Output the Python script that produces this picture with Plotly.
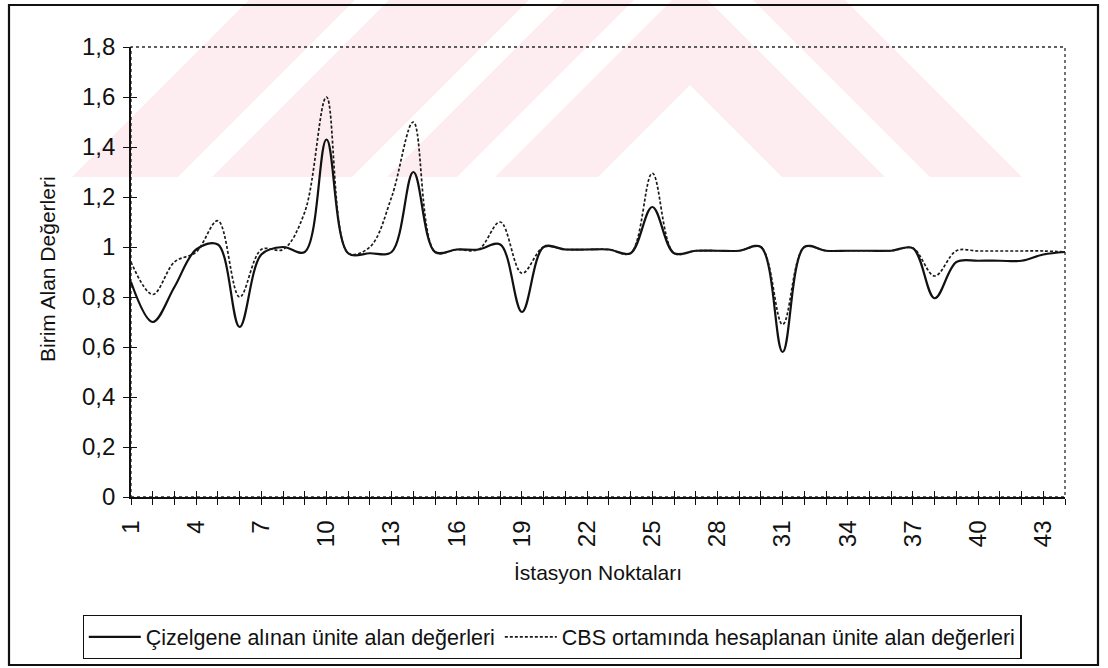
import plotly.graph_objects as go

# Station numbers along the route
stations = list(range(1, 45))

# Unit area values taken from the table (solid line)
cizelge_values = [
    0.86, 0.70, 0.84, 0.99, 1.01, 0.68, 0.97, 1.00, 0.98, 1.43,
    0.975, 0.975, 0.98, 1.30, 0.98, 0.99, 0.99, 1.01, 0.74, 1.00,
    0.99, 0.99, 0.99, 0.975, 1.16, 0.975, 0.985, 0.985, 0.985, 1.00,
    0.58, 1.00, 0.985, 0.985, 0.985, 0.985, 0.995, 0.795, 0.94, 0.945,
    0.945, 0.945, 0.97, 0.98,
]

# Unit area values computed in the GIS environment (dotted line)
cbs_values = [
    0.94, 0.81, 0.94, 0.98, 1.105, 0.80, 0.99, 0.99, 1.14, 1.60,
    0.975, 1.00, 1.20, 1.50, 0.98, 0.99, 0.99, 1.10, 0.895, 1.00,
    0.99, 0.99, 0.99, 0.975, 1.295, 0.975, 0.985, 0.985, 0.985, 1.00,
    0.69, 1.00, 0.985, 0.985, 0.985, 0.985, 0.995, 0.884, 0.985, 0.984,
    0.984, 0.984, 0.984, 0.98,
]

series_names = [
    "Çizelgene alınan ünite alan değerleri",
    "CBS ortamında hesaplanan ünite alan değerleri",
]

y_tick_values = [0, 0.2, 0.4, 0.6, 0.8, 1.0, 1.2, 1.4, 1.6, 1.8]
y_tick_labels = ["0", "0,2", "0,4", "0,6", "0,8", "1", "1,2", "1,4", "1,6", "1,8"]
x_tick_labels = [str(s) if (s - 1) % 3 == 0 else "" for s in stations]

FONT = "Liberation Sans, Arial, sans-serif"
INK = "#111111"
W, H = 1108, 668
L, R, T, B = 131, 43, 47, 171
PW, PH = W - L - R, H - T - B


def px(x):
    return (x - L) / PW


def py(y):
    return (H - B - y) / PH


fig = go.Figure()

fig.add_trace(go.Scatter(
    x=stations, y=cizelge_values, name=series_names[0],
    mode="lines", line=dict(color=INK, width=2.2, shape="spline", smoothing=1),
))
fig.add_trace(go.Scatter(
    x=stations, y=cbs_values, name=series_names[1],
    mode="lines", line=dict(color="#1a1a1a", width=1.7, dash="3px,2px", shape="spline", smoothing=1),
))
# carrier for the inner half of the crossing tick marks
fig.add_trace(go.Scatter(
    x=[stations[0]], y=[0], xaxis="x2", yaxis="y2", mode="markers",
    marker=dict(opacity=0), showlegend=False, hoverinfo="skip",
))

shapes = []

# faint chevron watermark in the upper band of the page
cx, yb = 690, 177
pink = "#fdedf0"


def ring(pts):
    return "M" + " L".join(f"{px(x):.5f},{py(y):.5f}" for x, y in pts) + " Z"


def chevron(d1, d2):
    outer = [(cx - d2, yb), (cx - d2 + yb, 0), (cx + d2 - yb, 0), (cx + d2, yb)]
    inner = [(cx - d1, yb), (cx, yb - d1), (cx + d1, yb)]
    return ring(outer) + " " + ring(inner)


def stripe(d1, d2, side):
    s = side
    return ring([(cx + s * d2, yb), (cx + s * (d2 - yb), 0),
                 (cx + s * (d1 - yb), 0), (cx + s * d1, yb)])


shapes.append(dict(type="path", xref="paper", yref="paper", path=chevron(92, 195),
                   fillcolor=pink, line=dict(width=0), layer="below", fillrule="evenodd"))
for d1, d2, side in [(233, 303, -1), (240, 332, 1), (338, 478, -1), (512, 618, -1)]:
    shapes.append(dict(type="path", xref="paper", yref="paper", path=stripe(d1, d2, side),
                       fillcolor=pink, line=dict(width=0), layer="below"))

# dotted plot-area border
shapes.append(dict(type="rect", xref="paper", yref="paper", x0=0, y0=0, x1=1, y1=1,
                   line=dict(color="#2a2a2a", width=1.3, dash="dot"), layer="below"))
# outer chart frame
shapes.append(dict(type="rect", xref="paper", yref="paper",
                   x0=px(9), x1=px(1098), y0=py(665), y1=py(5),
                   line=dict(color=INK, width=2.2), layer="above"))

axis_font = dict(family=FONT, size=24, color=INK)

fig.update_layout(
    width=W, height=H,
    margin=dict(l=L, r=R, t=T, b=B, autoexpand=False),
    paper_bgcolor="white",
    plot_bgcolor="rgba(0,0,0,0)",
    showlegend=True,
    shapes=shapes,
    font=dict(family=FONT, color=INK),
    xaxis=dict(
        range=[1, 44], tickmode="array", tickvals=stations, ticktext=x_tick_labels,
        tickangle=-90, tickfont=axis_font, ticks="outside", ticklen=6, tickwidth=1.3,
        tickcolor=INK, showline=True, linecolor=INK, linewidth=1.7,
        showgrid=False, zeroline=False, ticklabelstandoff=6,
    ),
    yaxis=dict(
        range=[0, 1.8], tickmode="array", tickvals=y_tick_values, ticktext=y_tick_labels,
        tickfont=axis_font, ticks="outside", ticklen=6, tickwidth=1.3, tickcolor=INK,
        showline=True, linecolor=INK, linewidth=1.7, showgrid=False, zeroline=False,
        ticklabelstandoff=3,
    ),
    xaxis2=dict(overlaying="x", matches="x", anchor="y", range=[1, 44], tickmode="array",
                tickvals=stations, ticks="inside", ticklen=6, tickwidth=1.3, tickcolor=INK,
                showticklabels=False, showline=False, showgrid=False, zeroline=False),
    yaxis2=dict(overlaying="y", matches="y", anchor="x", range=[0, 1.8], tickmode="array",
                tickvals=y_tick_values, ticks="inside", ticklen=6, tickwidth=1.3,
                tickcolor=INK, showticklabels=False, showline=False, showgrid=False,
                zeroline=False),
    legend=dict(
        orientation="h", x=px(552), xanchor="center", y=py(637), yanchor="middle",
        bordercolor=INK, borderwidth=1.3, bgcolor="white", itemwidth=52,
        font=dict(family=FONT, size=21.5, color=INK),
    ),
    annotations=[
        dict(text="Birim Alan Değerleri", xref="paper", yref="paper", x=px(47), y=py(269),
             xanchor="center", yanchor="middle", textangle=-90, showarrow=False,
             font=dict(family=FONT, size=21, color=INK)),
        dict(text="İstasyon Noktaları", xref="paper", yref="paper", x=0.5, y=py(572),
             xanchor="center", yanchor="middle", showarrow=False,
             font=dict(family=FONT, size=21, color=INK)),
    ],
)

fig.write_html("out.html")
